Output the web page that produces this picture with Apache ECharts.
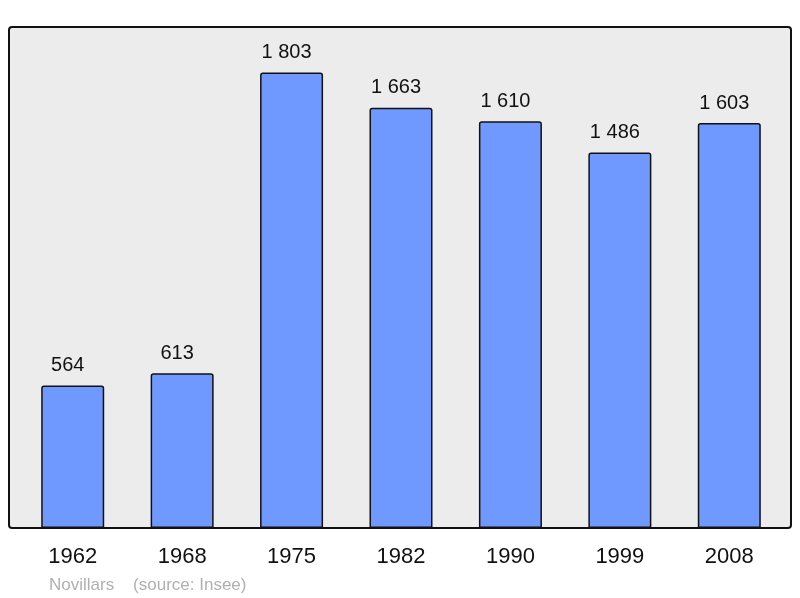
<!DOCTYPE html>
<html>
<head>
<meta charset="utf-8">
<script src="https://cdn.jsdelivr.net/npm/echarts@6/dist/echarts.min.js"></script>
<style>
  html, body { margin: 0; padding: 0; background: #fff; }
  #chart { width: 800px; height: 598px; }
</style>
</head>
<body>
<div id="chart"></div>
<script>
const years = ["1962", "1968", "1975", "1982", "1990", "1999", "2008"];
const population = [564, 613, 1803, 1663, 1610, 1486, 1603];
const footer = "Novillars    (source: Insee)";

const fmt = (v) => String(v).replace(/\B(?=(\d{3})+(?!\d))/g, " ");

const chart = echarts.init(document.getElementById("chart"), null, { renderer: "canvas" });

chart.setOption({
  backgroundColor: "#fff",
  animation: false,
  textStyle: { fontFamily: "Liberation Sans, Arial, sans-serif" },
  graphic: [
    {
      type: "rect",
      z: -10,
      shape: { x: 9, y: 27, width: 782, height: 501, r: 3 },
      style: { fill: "#ececec", stroke: "#111", lineWidth: 2 },
    },
    {
      type: "text",
      left: 49,
      top: 577,
      style: {
        text: footer,
        fill: "#b0b0b0",
        font: "17px Liberation Sans, Arial, sans-serif",
      },
    },
  ],
  grid: { left: 18, right: 16, top: 27, bottom: 70, containLabel: false },
  xAxis: {
    type: "category",
    data: years,
    axisLine: { show: false },
    axisTick: { show: false },
    axisLabel: {
      color: "#111",
      fontSize: 22,
      margin: 18,
      fontFamily: "Liberation Sans, Arial, sans-serif",
    },
  },
  yAxis: {
    type: "value",
    min: 0,
    max: 1983,
    show: false,
    splitLine: { show: false },
  },
  series: [
    {
      type: "bar",
      data: population,
      barWidth: 63,
      itemStyle: {
        color: "#7099ff",
        borderColor: "#111",
        borderWidth: 1.5,
        borderRadius: [2, 2, 0, 0],
      },
      label: {
        show: true,
        position: "top",
        distance: 10,
        offset: [-5, 0],
        color: "#111",
        fontSize: 20,
        fontFamily: "Liberation Sans, Arial, sans-serif",
        formatter: (p) => fmt(p.value),
      },
    },
  ],
});
</script>
</body>
</html>
